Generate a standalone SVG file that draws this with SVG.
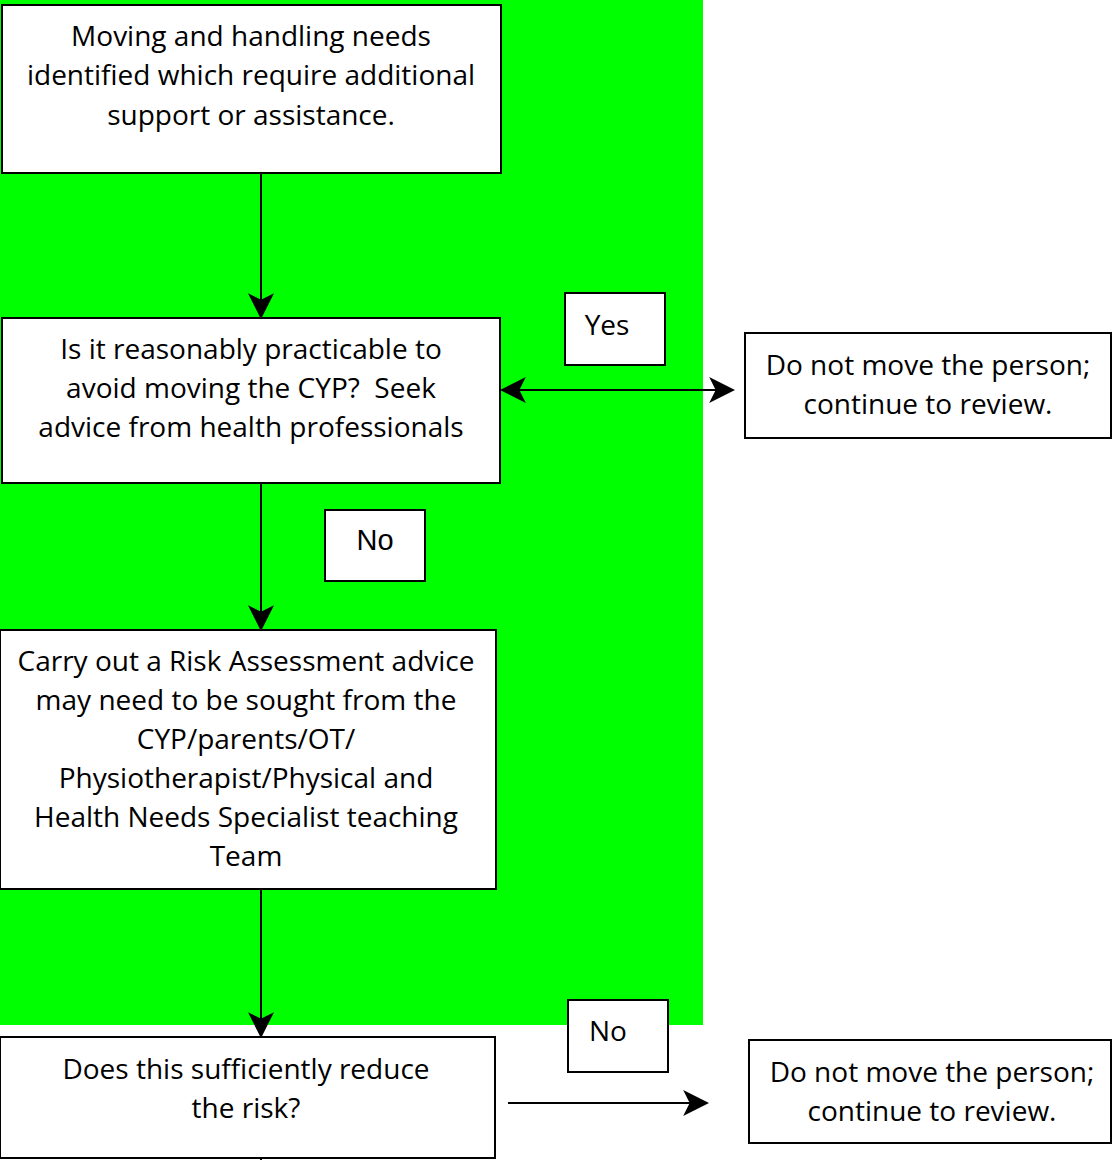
<svg xmlns="http://www.w3.org/2000/svg" width="1112" height="1160" viewBox="0 0 1112 1160">
<style>
.box{fill:#fff;stroke:#000;stroke-width:2}
.t{font-family:"Open Sans","Liberation Sans",sans-serif;font-size:28px;fill:#000;text-anchor:middle;white-space:pre}
.a{font-family:"Liberation Sans",Arial,sans-serif;font-size:29px;fill:#000;text-anchor:middle}
.c{stroke:#000;stroke-width:2;fill:none}
</style>
<defs>
<marker id="ahb" viewBox="0 0 12 12" refX="11" refY="6" markerWidth="26" markerHeight="26" markerUnits="userSpaceOnUse" orient="auto-start-reverse">
<path d="M0,0 L12,6 L0,12 L3,6 z" fill="#000"/>
</marker>
</defs>
<rect x="0" y="0" width="703" height="1025" fill="#00ff00"/>
<g id="connectors">
<line class="c" x1="261" y1="173" x2="261" y2="317" marker-end="url(#ahb)"/>
<line class="c" x1="502" y1="390" x2="733" y2="390" marker-start="url(#ahb)" marker-end="url(#ahb)"/>
<line class="c" x1="261" y1="483" x2="261" y2="629" marker-end="url(#ahb)"/>
<line class="c" x1="261" y1="889" x2="261" y2="1036" marker-end="url(#ahb)"/>
<line class="c" x1="508" y1="1103" x2="707" y2="1103" marker-end="url(#ahb)"/>
<line class="c" x1="261" y1="1158" x2="261" y2="1160"/>
</g>
<g id="n1">
<rect class="box" x="2" y="5" width="499" height="168"/>
<text class="t" x="251" y="46">Moving and handling needs</text>
<text class="t" x="251" y="85">identified which require additional</text>
<text class="t" x="251" y="125">support or assistance.</text>
</g>
<g id="n2">
<rect class="box" x="2" y="318" width="498" height="165"/>
<text class="t" x="251" y="359">Is it reasonably practicable to</text>
<text class="t" x="251" y="398" xml:space="preserve">avoid moving the CYP?  Seek</text>
<text class="t" x="251" y="437">advice from health professionals</text>
</g>
<g id="yes">
<rect class="box" x="565" y="293" width="100" height="72"/>
<text class="t" x="607" y="335">Yes</text>
</g>
<g id="r1">
<rect class="box" x="745" y="333" width="366" height="105"/>
<text class="t" x="928" y="375">Do not move the person;</text>
<text class="t" x="928" y="414">continue to review.</text>
</g>
<g id="no1">
<rect class="box" x="325" y="510" width="100" height="71"/>
<text class="a" x="375" y="550">No</text>
</g>
<g id="n3">
<rect class="box" x="0" y="630" width="496" height="259"/>
<text class="t" x="246" y="671">Carry out a Risk Assessment advice</text>
<text class="t" x="246" y="710">may need to be sought from the</text>
<text class="t" x="246" y="749">CYP/parents/OT/</text>
<text class="t" x="246" y="788">Physiotherapist/Physical and</text>
<text class="t" x="246" y="827">Health Needs Specialist teaching</text>
<text class="t" x="246" y="866">Team</text>
</g>
<g id="n4">
<rect class="box" x="0" y="1037" width="495" height="121"/>
<text class="t" x="246" y="1079">Does this sufficiently reduce</text>
<text class="t" x="246" y="1118">the risk?</text>
</g>
<g id="no2">
<rect class="box" x="568" y="1000" width="100" height="72"/>
<text class="t" x="608" y="1041">No</text>
</g>
<g id="r2">
<rect class="box" x="749" y="1040" width="362" height="103"/>
<text class="t" x="932" y="1082">Do not move the person;</text>
<text class="t" x="932" y="1121">continue to review.</text>
</g>
</svg>
